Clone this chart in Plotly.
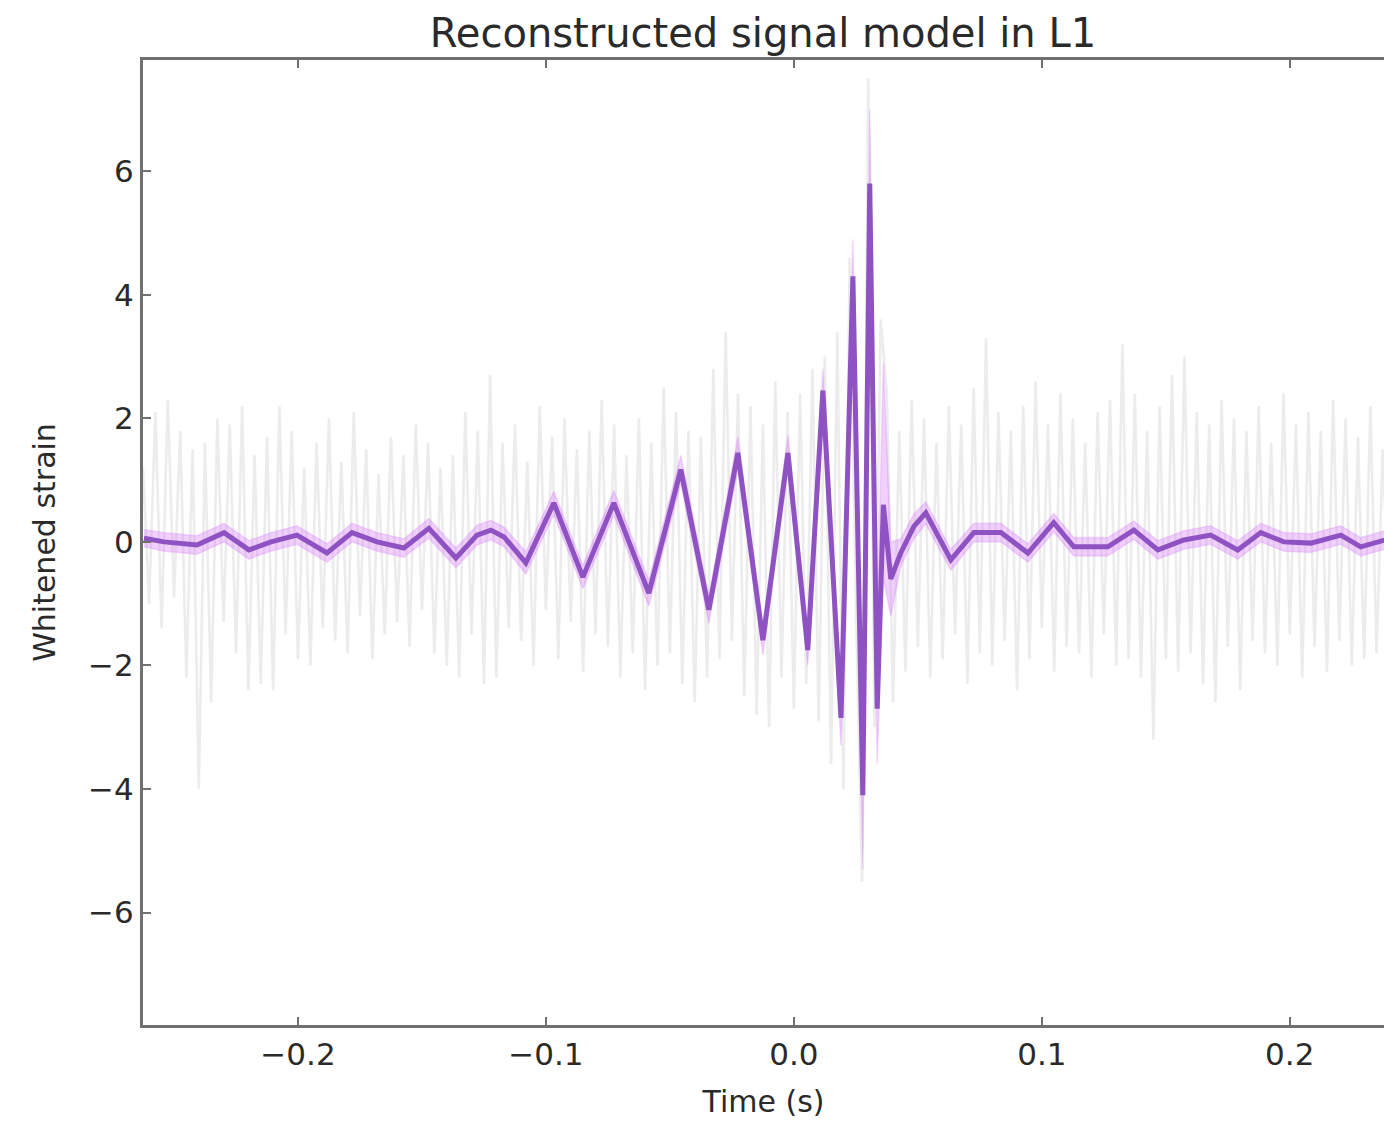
import numpy as np
import plotly.graph_objects as go

# Whitened data (gray), sampled on a regular grid
data_start = -0.2625
data_step = 0.0025
data_values = [
    1.2, -1.0, 2.1, -1.4, 2.3, -0.9, 1.8, -2.2, 1.5, -4.0,
    1.6, -2.6, 2.0, -1.3, 1.9, -1.8, 2.2, -2.4, 1.4, -2.3,
    1.7, -2.4, 2.2, -1.5, 1.8, -1.9, 1.2, -2.0, 1.6, -1.4,
    2.0, -1.6, 1.3, -1.8, 2.1, -1.2, 1.5, -1.9, 1.1, -1.5,
    1.7, -1.3, 1.4, -1.7, 1.9, -1.1, 1.6, -1.8, 1.2, -2.0,
    1.4, -2.2, 2.1, -1.5, 1.8, -2.3, 2.7, -2.2, 1.6, -1.4,
    1.9, -1.6, 1.3, -2.0, 2.2, -1.1, 1.7, -1.9, 2.0, -1.3,
    1.5, -2.1, 1.8, -1.5, 2.3, -1.7, 1.9, -2.2, 1.4, -1.8,
    2.0, -2.4, 1.6, -2.0, 2.5, -1.8, 2.1, -2.3, 1.8, -2.6,
    1.7, -2.2, 2.8, -1.9, 3.4, -1.6, 2.4, -2.5, 2.2, -2.8,
    1.9, -3.0, 2.6, -2.2, 2.1, -2.7, 2.4, -2.3, 2.8, -2.9,
    3.0, -3.6, 3.4, -4.0, 4.6, -1.0, -5.5, 7.5, -3.0, 3.6,
    2.4, -2.6, 1.8, -2.1, 2.3, -1.7, 2.0, -2.2, 1.6, -1.9,
    2.2, -1.5, 1.9, -2.3, 2.5, -1.8, 3.3, -2.0, 2.1, -1.6,
    1.8, -2.4, 2.2, -1.9, 2.6, -1.4, 1.9, -2.1, 2.4, -1.7,
    2.0, -1.8, 1.6, -2.2, 2.1, -1.5, 2.3, -2.0, 3.2, -1.9,
    2.4, -2.2, 1.8, -3.2, 2.2, -1.9, 2.7, -2.1, 3.0, -1.8,
    2.1, -2.3, 1.9, -2.6, 2.3, -1.7, 2.0, -2.4, 1.8, -1.6,
    2.2, -1.8, 1.6, -2.0, 2.4, -1.5, 1.9, -2.2, 2.1, -1.7,
    1.8, -2.1, 2.3, -1.6, 2.0, -2.0, 1.7, -1.9, 2.2, -1.8,
    1.5, -1.2,
]

# Reconstructed signal model (median) and its credible band
model_t = [-0.2621, -0.254, -0.2407, -0.2298, -0.2198, -0.2109, -0.2004, -0.1883,
           -0.1782, -0.1681, -0.1573, -0.1472, -0.1363, -0.1278, -0.1222, -0.1169,
           -0.1081, -0.0968, -0.0851, -0.0726, -0.0585, -0.0456, -0.0343, -0.0226,
           -0.0125, -0.0024, 0.0056, 0.0117, 0.019, 0.0238, 0.0278, 0.0306,
           0.0336, 0.0361, 0.0391, 0.0431, 0.0484, 0.0532, 0.0633, 0.0726,
           0.0835, 0.0944, 0.1048, 0.1129, 0.1266, 0.1371, 0.1468, 0.1573,
           0.1681, 0.179, 0.1883, 0.1976, 0.2085, 0.2206, 0.2286, 0.2383]
model_val = [0.06, 0.0, -0.05, 0.15, -0.13, 0.0, 0.11, -0.18,
             0.15, 0.0, -0.1, 0.22, -0.26, 0.11, 0.19, 0.08,
             -0.34, 0.63, -0.57, 0.63, -0.83, 1.17, -1.1, 1.44,
             -1.59, 1.44, -1.75, 2.45, -2.85, 4.3, -4.1, 5.8,
             -2.7, 0.6, -0.6, -0.18, 0.25, 0.47, -0.29, 0.15,
             0.15, -0.18, 0.31, -0.08, -0.08, 0.19, -0.13, 0.03,
             0.11, -0.13, 0.15, 0.0, -0.02, 0.11, -0.08, 0.03]
band_hi = [0.2, 0.15, 0.1, 0.3, 0.02, 0.15, 0.26, -0.03,
           0.3, 0.15, 0.05, 0.38, -0.1, 0.27, 0.35, 0.24,
           -0.16, 0.82, -0.38, 0.83, -0.62, 1.4, -0.88, 1.7,
           -1.35, 1.72, -1.5, 2.8, -2.5, 4.9, -3.5, 7.0,
           -1.2, 2.9, 0.0, 0.05, 0.45, 0.65, -0.12, 0.3,
           0.3, -0.03, 0.46, 0.07, 0.07, 0.34, 0.02, 0.18,
           0.26, 0.02, 0.3, 0.15, 0.13, 0.26, 0.07, 0.18]
band_lo = [-0.08, -0.15, -0.2, 0.0, -0.28, -0.15, -0.04, -0.33,
           0.0, -0.15, -0.25, 0.06, -0.42, -0.05, 0.03, -0.08,
           -0.52, 0.44, -0.76, 0.43, -1.04, 0.94, -1.32, 1.18,
           -1.83, 1.16, -2.0, 2.05, -3.3, 3.6, -5.3, 4.6,
           -3.6, -0.6, -1.2, -0.4, 0.05, 0.29, -0.46, 0.0,
           0.0, -0.33, 0.16, -0.23, -0.23, 0.04, -0.28, -0.12,
           -0.04, -0.28, 0.0, -0.15, -0.17, -0.04, -0.23, -0.12]

x_ticks = [-0.2, -0.1, 0.0, 0.1, 0.2]
x_tick_labels = ["\u22120.2", "\u22120.1", "0.0", "0.1", "0.2"]
y_ticks = [-6, -4, -2, 0, 2, 4, 6]
y_tick_labels = ["\u22126", "\u22124", "\u22122", "0", "2", "4", "6"]

data_t = data_start + data_step * np.arange(len(data_values))

fig = go.Figure()
fig.add_trace(go.Scatter(
    x=data_t, y=data_values, mode="lines",
    line=dict(color="rgba(195,195,200,0.32)", width=2.6),
    hoverinfo="skip", showlegend=False))
fig.add_trace(go.Scatter(
    x=model_t, y=band_lo, mode="lines",
    line=dict(color="rgba(215,120,250,0.25)", width=1.5),
    hoverinfo="skip", showlegend=False))
fig.add_trace(go.Scatter(
    x=model_t, y=band_hi, mode="lines", fill="tonexty",
    fillcolor="rgba(215,120,250,0.35)",
    line=dict(color="rgba(215,120,250,0.25)", width=1.5),
    hoverinfo="skip", showlegend=False))
fig.add_trace(go.Scatter(
    x=model_t, y=model_val, mode="lines",
    line=dict(color="rgb(142,82,194)", width=5),
    showlegend=False))

font_family = "DejaVu Sans"
axis_color = "#707070"
fig.update_layout(
    width=1384, height=1130,
    margin=dict(l=143, r=0, t=60, b=105),
    paper_bgcolor="white", plot_bgcolor="white",
    font=dict(family=font_family, size=31, color="#2a2a2a"),
    title=dict(text="Reconstructed signal model in L1",
               x=0.5513, xanchor="center", y=1 - 33 / 1130, yanchor="middle",
               yref="container",
               font=dict(family=font_family, size=40, color="#2a2a2a")),
)
fig.update_xaxes(
    range=[-0.2625, 0.238], tickvals=x_ticks, ticktext=x_tick_labels,
    showgrid=False, zeroline=False, showline=True, linecolor=axis_color,
    linewidth=3, mirror="ticks", ticks="inside", ticklen=8, tickwidth=1.5,
    tickcolor=axis_color,
    title=dict(text="Time (s)", standoff=20, font=dict(size=30)),
)
fig.update_yaxes(
    range=[-7.82, 7.8], tickvals=y_ticks, ticktext=y_tick_labels,
    showgrid=False, zeroline=False, showline=True, linecolor=axis_color,
    linewidth=3, ticks="inside", ticklen=8, tickwidth=1.5, tickcolor=axis_color,
    title=dict(text="Whitened strain", standoff=24, font=dict(size=30)),
)

fig.write_html("out.html")
